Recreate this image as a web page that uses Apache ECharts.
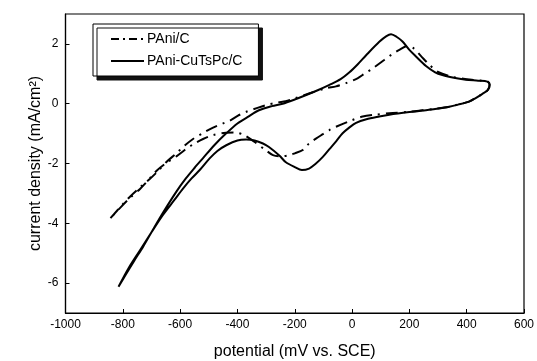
<!DOCTYPE html>
<html>
<head>
<meta charset="utf-8">
<script src="https://cdn.jsdelivr.net/npm/echarts@6/dist/echarts.min.js"></script>
<style>html,body{margin:0;padding:0;background:#fff}#c{width:537px;height:361px}</style>
</head>
<body>
<div id="c"></div>
<script>
// PAni-CuTsPc/C (solid) cyclic voltammogram, potential in mV, current density in mA/cm2
const cutspcX = [-815,-790,-760,-729,-700,-660,-613,-580,-550,-520,-480,-440,-400,-365,-325,-280,-242,-200,-160,-120,-79,-40,-9,20,49,95,120,136,155,176,200,223,258,290,315,360,397,440,472,480,474,455,430,408,370,339,290,246,200,130,95,50,14,-10,-33,-55,-79,-102,-128,-150,-175,-200,-232,-253,-290,-311,-340,-370,-400,-439,-470,-497,-530,-560,-590,-620,-660,-700,-740,-780,-815];
const cutspcY = [-6.12,-5.72,-5.25,-4.78,-4.3,-3.65,-2.94,-2.5,-2.15,-1.82,-1.38,-1.0,-0.66,-0.45,-0.22,-0.08,0.0,0.14,0.29,0.45,0.63,0.82,1.05,1.32,1.62,2.07,2.26,2.32,2.24,2.08,1.8,1.58,1.26,1.05,0.96,0.86,0.8,0.77,0.74,0.63,0.46,0.33,0.18,0.07,-0.03,-0.1,-0.18,-0.23,-0.28,-0.37,-0.43,-0.52,-0.64,-0.8,-0.99,-1.25,-1.52,-1.78,-2.02,-2.17,-2.22,-2.12,-1.95,-1.74,-1.45,-1.33,-1.23,-1.2,-1.23,-1.39,-1.58,-1.83,-2.2,-2.5,-2.84,-3.22,-3.72,-4.3,-4.9,-5.5,-6.12];
// PAni/C (dash-dot)
const paniX = [-843,-800,-775,-740,-706,-677,-648,-613,-584,-555,-520,-485,-450,-427,-398,-369,-330,-300,-260,-232,-200,-148,-90,-56,-21,19,43,72,112,139,165,195,215,240,270,300,350,400,450,474,480,474,455,430,408,370,339,290,246,200,130,80,37,0,-56,-79,-102,-125,-149,-172,-200,-218,-250,-276,-302,-340,-377,-410,-440,-485,-520,-555,-584,-613,-648,-682,-706,-740,-775,-806,-843];
const paniY = [-3.83,-3.36,-3.11,-2.8,-2.52,-2.25,-1.95,-1.66,-1.4,-1.18,-0.98,-0.8,-0.66,-0.57,-0.4,-0.27,-0.14,-0.05,0.04,0.08,0.18,0.35,0.52,0.58,0.69,0.85,1.0,1.18,1.46,1.65,1.8,1.93,1.85,1.6,1.3,1.06,0.9,0.82,0.77,0.74,0.63,0.46,0.33,0.18,0.07,-0.03,-0.1,-0.17,-0.22,-0.27,-0.32,-0.37,-0.43,-0.55,-0.77,-0.88,-1.02,-1.16,-1.32,-1.55,-1.66,-1.72,-1.76,-1.72,-1.55,-1.28,-1.05,-0.96,-0.97,-1.05,-1.18,-1.36,-1.55,-1.76,-1.98,-2.24,-2.5,-2.85,-3.15,-3.45,-3.83];
const xTicks = [-1000,-800,-600,-400,-200,0,200,400,600];
const yTicks = [-6,-4,-2,0,2];

const zip = (xs, ys) => xs.map((x, i) => [x, ys[i]]);
const font = 'Liberation Sans, Arial, sans-serif';
const dashDot = [12, 6, 2, 6];
const chart = echarts.init(document.getElementById('c'), null, {renderer: 'canvas'});
chart.setOption({
  animation: false,
  backgroundColor: '#fff',
  grid: {left: 65.5, right: 13, top: 14, bottom: 48, containLabel: false, outerBoundsMode: 'none',
         show: true, borderColor: '#000', borderWidth: 1.2, backgroundColor: 'transparent'},
  legend: {
    orient: 'vertical', left: 93, top: 24,
    padding: [8, 16, 8, 17], itemGap: 8, itemWidth: 33, itemHeight: 14,
    backgroundColor: '#fff', borderColor: '#000', borderWidth: 1,
    shadowColor: '#111', shadowBlur: 0, shadowOffsetX: 4, shadowOffsetY: 4,
    itemStyle: {opacity: 0},
    textStyle: {fontFamily: font, fontSize: 14, color: '#000', padding: [0, 0, 0, -2]},
    data: [
      {name: 'PAni/C', lineStyle: {color: '#000', width: 2, type: [8, 4, 2, 4]}},
      {name: 'PAni-CuTsPc/C', lineStyle: {color: '#000', width: 2, type: 'solid'}}
    ]
  },
  xAxis: {
    type: 'value', min: -1000, max: 600, interval: 200,
    name: 'potential (mV vs. SCE)', nameLocation: 'middle', nameGap: 31, nameMoveOverlap: false,
    nameTextStyle: {fontFamily: font, fontSize: 16, color: '#000'},
    axisLine: {show: true, onZero: false, lineStyle: {color: '#000', width: 1.2}},
    axisTick: {show: true, inside: true, length: 4, lineStyle: {color: '#000'}},
    axisLabel: {fontFamily: font, fontSize: 12, color: '#000', margin: 6, formatter: v => String(v)},
    splitLine: {show: false}
  },
  yAxis: {
    type: 'value', min: -7, max: 3,
    name: 'current density (mA/cm²)', nameLocation: 'middle', nameGap: 22, nameMoveOverlap: false,
    nameTextStyle: {fontFamily: font, fontSize: 16, color: '#000'},
    axisLine: {show: true, onZero: false, lineStyle: {color: '#000', width: 1.2}},
    axisTick: {show: true, inside: true, length: 4, lineStyle: {color: '#000'}, customValues: yTicks},
    axisLabel: {fontFamily: font, fontSize: 12, color: '#000', margin: 7, customValues: yTicks},
    splitLine: {show: false}
  },
  series: [
    {name: 'PAni/C', type: 'line', data: zip(paniX, paniY), showSymbol: false, symbol: 'none', smooth: 0.3,
     itemStyle: {color: '#000'}, lineStyle: {color: '#000', width: 2, type: dashDot}},
    {name: 'PAni-CuTsPc/C', type: 'line', data: zip(cutspcX, cutspcY), showSymbol: false, symbol: 'none', smooth: 0.3,
     itemStyle: {color: '#000'}, lineStyle: {color: '#000', width: 2, type: 'solid'}}
  ]
});
</script>
</body>
</html>
